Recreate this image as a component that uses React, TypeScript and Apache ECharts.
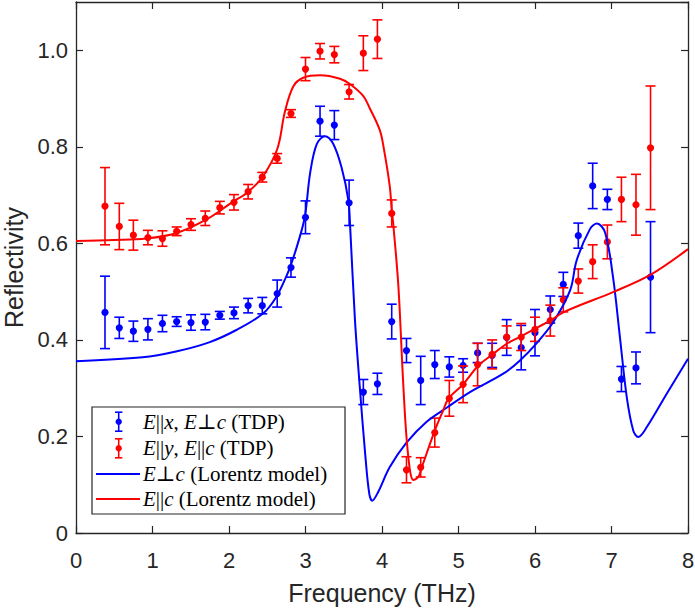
import React, { useEffect, useRef } from "react";
import * as echarts from "echarts";

// Measured frequencies (THz) of the TDP data points
const freq = [0.379, 0.566, 0.75, 0.94, 1.13, 1.316, 1.503, 1.69, 1.88, 2.065, 2.25, 2.435, 2.63, 2.81, 3.0, 3.19, 3.377, 3.57, 3.756, 3.94, 4.127, 4.32, 4.506, 4.69, 4.88, 5.06, 5.25, 5.44, 5.63, 5.82, 6.0, 6.2, 6.37, 6.566, 6.754, 6.946, 7.13, 7.32, 7.51];

// E||x, E⊥c (TDP)
const blueR = [0.457, 0.425, 0.418, 0.422, 0.434, 0.438, 0.436, 0.437, 0.451, 0.456, 0.471, 0.471, 0.496, 0.550, 0.654, 0.853, 0.845, 0.684, 0.292, 0.309, 0.438, 0.378, 0.316, 0.349, 0.344, 0.347, 0.373, 0.368, 0.405, 0.384, 0.415, 0.463, 0.515, 0.616, 0.719, 0.691, 0.319, 0.342, 0.530];
const blueErr = [0.075, 0.022, 0.021, 0.022, 0.017, 0.010, 0.016, 0.016, 0.008, 0.012, 0.015, 0.017, 0.028, 0.020, 0.034, 0.031, 0.030, 0.047, 0.026, 0.022, 0.036, 0.025, 0.050, 0.029, 0.021, 0.014, 0.020, 0.025, 0.037, 0.046, 0.048, 0.028, 0.025, 0.026, 0.047, 0.021, 0.026, 0.033, 0.115];

// E||y, E||c (TDP)
const redR = [0.677, 0.635, 0.617, 0.612, 0.610, 0.625, 0.639, 0.652, 0.674, 0.685, 0.707, 0.737, 0.776, 0.869, 0.961, 0.998, 0.991, 0.914, 0.994, 1.023, 0.662, 0.131, 0.136, 0.208, 0.279, 0.308, 0.349, 0.370, 0.406, 0.406, 0.422, 0.440, 0.483, 0.522, 0.562, 0.603, 0.691, 0.680, 0.798];
const redErr = [0.080, 0.048, 0.031, 0.015, 0.016, 0.009, 0.012, 0.015, 0.013, 0.016, 0.015, 0.010, 0.010, 0.008, 0.024, 0.016, 0.017, 0.015, 0.036, 0.040, 0.028, 0.027, 0.020, 0.030, 0.037, 0.038, 0.044, 0.030, 0.023, 0.028, 0.025, 0.032, 0.025, 0.025, 0.035, 0.035, 0.046, 0.063, 0.128];

// E⊥c (Lorentz model)
const blueCurveX = [0, 0.87, 1.307, 1.74, 2.09, 2.44, 2.61, 2.745, 2.81, 2.9, 2.99, 3.06, 3.146, 3.255, 3.36, 3.47, 3.56, 3.585, 3.647, 3.71, 3.78, 3.834, 3.873, 3.95, 4.10, 4.32, 4.58, 4.85, 5.15, 5.585, 5.80, 6.02, 6.24, 6.46, 6.545, 6.72, 6.81, 6.915, 7.02, 7.11, 7.20, 7.285, 7.35, 7.46, 7.72, 8.0];
const blueCurveY = [0.356, 0.364, 0.376, 0.395, 0.420, 0.454, 0.487, 0.530, 0.556, 0.600, 0.654, 0.745, 0.805, 0.822, 0.807, 0.758, 0.689, 0.630, 0.440, 0.302, 0.164, 0.081, 0.067, 0.085, 0.136, 0.187, 0.230, 0.260, 0.292, 0.330, 0.357, 0.393, 0.437, 0.503, 0.565, 0.630, 0.641, 0.623, 0.530, 0.406, 0.281, 0.212, 0.199, 0.219, 0.288, 0.361];

// E||c (Lorentz model)
const redCurveX = [0, 0.5, 0.915, 1.307, 1.70, 2.05, 2.245, 2.435, 2.63, 2.73, 2.84, 2.97, 3.19, 3.45, 3.58, 3.756, 3.84, 3.97, 4.02, 4.10, 4.127, 4.15, 4.215, 4.28, 4.34, 4.41, 4.475, 4.52, 4.69, 4.80, 4.867, 5.06, 5.26, 5.43, 5.63, 5.80, 6.0, 6.196, 6.41, 7.02, 7.50, 8.0];
const redCurveY = [0.605, 0.607, 0.610, 0.621, 0.649, 0.686, 0.706, 0.737, 0.795, 0.872, 0.925, 0.943, 0.948, 0.941, 0.930, 0.905, 0.880, 0.835, 0.800, 0.720, 0.670, 0.635, 0.509, 0.302, 0.164, 0.110, 0.116, 0.136, 0.212, 0.254, 0.278, 0.308, 0.347, 0.368, 0.392, 0.406, 0.423, 0.440, 0.460, 0.499, 0.534, 0.588];

const xTicks = [0, 1, 2, 3, 4, 5, 6, 7, 8];
const yTickLabels = ["0", "0.2", "0.4", "0.6", "0.8", "1.0"];

const BLUE = "#0000ff";
const RED = "#ff0000";
const AX = "#262626";
const SANS = "'Liberation Sans', Arial, Helvetica, sans-serif";
const SERIF = "'Liberation Serif', 'DejaVu Serif', serif";

function errorSeries(name: string, ys: number[], es: number[], color: string) {
  return {
    name,
    type: "custom",
    xAxisIndex: 0,
    yAxisIndex: 0,
    data: freq.map((f, i) => [f, ys[i], es[i]]),
    encode: { x: 0, y: 1 },
    renderItem: (params: any, api: any) => {
      const x = api.value(0);
      const y = api.value(1);
      const e = api.value(2);
      const top = api.coord([x, y + e]);
      const bot = api.coord([x, y - e]);
      const c = api.coord([x, y]);
      const hw = 5;
      const st = { stroke: color, lineWidth: 1.6 };
      return {
        type: "group",
        children: [
          { type: "line", shape: { x1: top[0], y1: top[1], x2: bot[0], y2: bot[1] }, style: st },
          { type: "line", shape: { x1: top[0] - hw, y1: top[1], x2: top[0] + hw, y2: top[1] }, style: st },
          { type: "line", shape: { x1: bot[0] - hw, y1: bot[1], x2: bot[0] + hw, y2: bot[1] }, style: st },
          { type: "circle", shape: { cx: c[0], cy: c[1], r: 3.6 }, style: { fill: color } },
        ],
      };
    },
  };
}

function lineSeries(name: string, xs: number[], ys: number[], color: string) {
  return {
    name,
    type: "line",
    xAxisIndex: 0,
    yAxisIndex: 0,
    data: xs.map((x, i) => [x, ys[i]]),
    showSymbol: false,
    symbol: "none",
    smooth: 0.35,
    lineStyle: { color, width: 2 },
  };
}

export default function App() {
  const ref = useRef<HTMLDivElement>(null);
  useEffect(() => {
    document.body.style.margin = "0";
    const chart = echarts.init(ref.current!, null, { renderer: "svg" });
    const axisCommon = {
      min: 0,
      axisLine: { show: true, onZero: false, lineStyle: { color: AX, width: 1.3 } },
      axisTick: { show: true, inside: true, length: 7, lineStyle: { color: AX, width: 1.2 } },
      splitLine: { show: false },
    };
    const rows = [421.7, 448.3, 474, 499];
    const rich = {
      i: { fontFamily: SERIF, fontStyle: "italic", fontSize: 21, fill: "#000" },
      n: { fontFamily: SERIF, fontSize: 21, fill: "#000" },
    };
    const legendTexts = [
      "{i|E}{n|||}{i|x}{n|, }{i|E}{n|⊥}{i|c}{n| (TDP)}",
      "{i|E}{n|||}{i|y}{n|, }{i|E}{n|||}{i|c}{n| (TDP)}",
      "{i|E}{n|⊥}{i|c}{n| (Lorentz model)}",
      "{i|E}{n|||}{i|c}{n| (Lorentz model)}",
    ];
    const errIcon = (cy: number, color: string) => {
      const st = { stroke: color, lineWidth: 1.6 };
      return [
        { type: "line", z: 101, shape: { x1: 118.7, y1: cy - 9.5, x2: 118.7, y2: cy + 9.5 }, style: st },
        { type: "line", z: 101, shape: { x1: 115, y1: cy - 9.5, x2: 122.4, y2: cy - 9.5 }, style: st },
        { type: "line", z: 101, shape: { x1: 115, y1: cy + 9.5, x2: 122.4, y2: cy + 9.5 }, style: st },
        { type: "circle", z: 101, shape: { cx: 118.7, cy, r: 3.2 }, style: { fill: color } },
      ];
    };
    chart.setOption({
      animation: false,
      backgroundColor: "#ffffff",
      grid: { left: 76, right: 7, top: 2, bottom: 76, containLabel: false, outerBoundsMode: "none" },
      xAxis: [
        {
          ...axisCommon,
          type: "value",
          max: 8,
          interval: 1,
          position: "bottom",
          name: "Frequency (THz)",
          nameLocation: "middle",
          nameGap: 47,
          nameTextStyle: { color: AX, fontSize: 25, fontFamily: SANS },
          axisLabel: {
            color: AX,
            fontSize: 22,
            fontFamily: SANS,
            margin: 16,
            formatter: (v: number) => (xTicks.includes(v) ? String(v) : ""),
          },
        },
        {
          ...axisCommon,
          type: "value",
          max: 8,
          interval: 1,
          position: "top",
          axisLabel: { show: false },
        },
      ],
      yAxis: [
        {
          ...axisCommon,
          type: "value",
          max: 1.1,
          interval: 0.2,
          position: "left",
          name: "Reflectivity",
          nameLocation: "middle",
          nameGap: 50,
          nameTextStyle: { color: AX, fontSize: 25, fontFamily: SANS },
          axisLabel: {
            color: AX,
            fontSize: 22,
            fontFamily: SANS,
            margin: 8,
            showMaxLabel: false,
            formatter: (v: number) => {
              const idx = Math.round(v / 0.2);
              if (Math.abs(v - idx * 0.2) > 1e-6 || idx >= yTickLabels.length) return "";
              return yTickLabels[idx];
            },
          },
        },
        {
          ...axisCommon,
          type: "value",
          max: 1.1,
          interval: 0.2,
          position: "right",
          axisLabel: { show: false },
        },
      ],
      series: [
        errorSeries("E||x, E⊥c (TDP)", blueR, blueErr, BLUE),
        errorSeries("E||y, E||c (TDP)", redR, redErr, RED),
        lineSeries("E⊥c (Lorentz model)", blueCurveX, blueCurveY, BLUE),
        lineSeries("E||c (Lorentz model)", redCurveX, redCurveY, RED),
      ],
      graphic: [
        {
          type: "rect",
          z: 100,
          shape: { x: 92, y: 407, width: 253, height: 107 },
          style: { fill: "#ffffff", stroke: AX, lineWidth: 1.2 },
        },
        ...errIcon(rows[0], BLUE),
        ...errIcon(rows[1], RED),
        { type: "line", z: 101, shape: { x1: 96, y1: rows[2], x2: 140, y2: rows[2] }, style: { stroke: BLUE, lineWidth: 2 } },
        { type: "line", z: 101, shape: { x1: 96, y1: rows[3], x2: 140, y2: rows[3] }, style: { stroke: RED, lineWidth: 2 } },
        ...legendTexts.map((t, k) => ({
          type: "text",
          x: 143,
          y: rows[k],
          z: 101,
          style: {
            text: t,
            rich,
            fontFamily: SERIF,
            fontSize: 21,
            verticalAlign: "middle",
            fill: "#000",
          },
        })),
      ],
    });
    return () => chart.dispose();
  }, []);
  return <div ref={ref} style={{ width: 695, height: 609 }} />;
}
